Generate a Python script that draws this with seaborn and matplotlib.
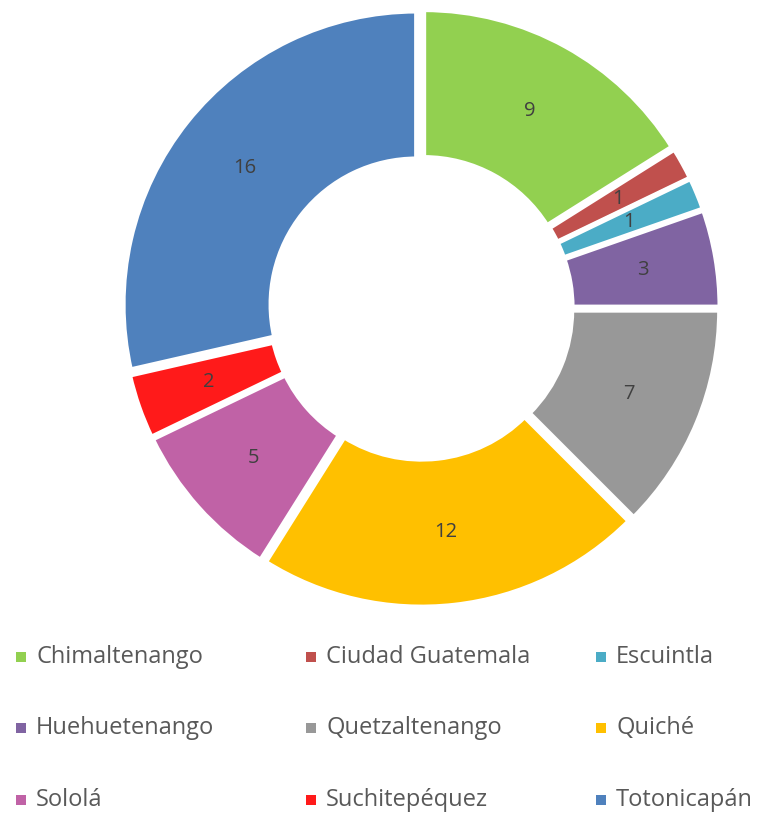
import matplotlib
matplotlib.use("Agg")
import matplotlib.pyplot as plt
import seaborn as sns
from matplotlib.patches import Rectangle

# datos
departamentos = ["Chimaltenango", "Ciudad Guatemala", "Escuintla",
                 "Huehuetenango", "Quetzaltenango", "Quiché",
                 "Sololá", "Suchitepéquez", "Totonicapán"]
valores = [9, 1, 1, 3, 7, 12, 5, 2, 16]
colores = ["#92D050", "#C0504D", "#4BACC6", "#8064A2", "#989898",
           "#FFC000", "#C062A6", "#FF1A1A", "#4F81BD"]

sns.set_theme(style="white")
plt.rcParams['font.family'] = ['Open Sans', 'DejaVu Sans']

W, H = 774, 815
fig = plt.figure(figsize=(W / 100, H / 100), dpi=100)
ax = fig.add_axes([0.1457, 0.2439, 0.7964, 0.7563])

wedges, textos = ax.pie(
    valores, colors=colores, startangle=90, counterclock=False,
    radius=1.0, explode=[0.019] * len(valores),
    labels=[str(v) for v in valores], labeldistance=0.748,
    wedgeprops=dict(width=0.504, edgecolor="white", linewidth=3.6),
    textprops=dict(color="#404040", fontsize=14.5),
)
for t in textos:
    t.set_horizontalalignment("center")
    t.set_verticalalignment("center")
ax.set_xlim(-1.05, 1.05)
ax.set_ylim(-1.05, 1.05)
ax.set_aspect("equal")
ax.axis("off")

# leyenda manual, 3 columnas por filas
col_x = [16, 306, 596]
fila_y = [657, 728, 800]
for i, (nombre, c) in enumerate(zip(departamentos, colores)):
    x0 = col_x[i % 3]
    y0 = fila_y[i // 3]
    fig.patches.append(Rectangle((x0 / W, 1 - (y0 + 5) / H), 10 / W, 10 / H,
                                 transform=fig.transFigure, facecolor=c,
                                 edgecolor="none"))
    fig.text((x0 + 20) / W, 1 - y0 / H, nombre, fontsize=17,
             color="#595959", ha="left", va="center")

fig.savefig("out.png", dpi=100)
